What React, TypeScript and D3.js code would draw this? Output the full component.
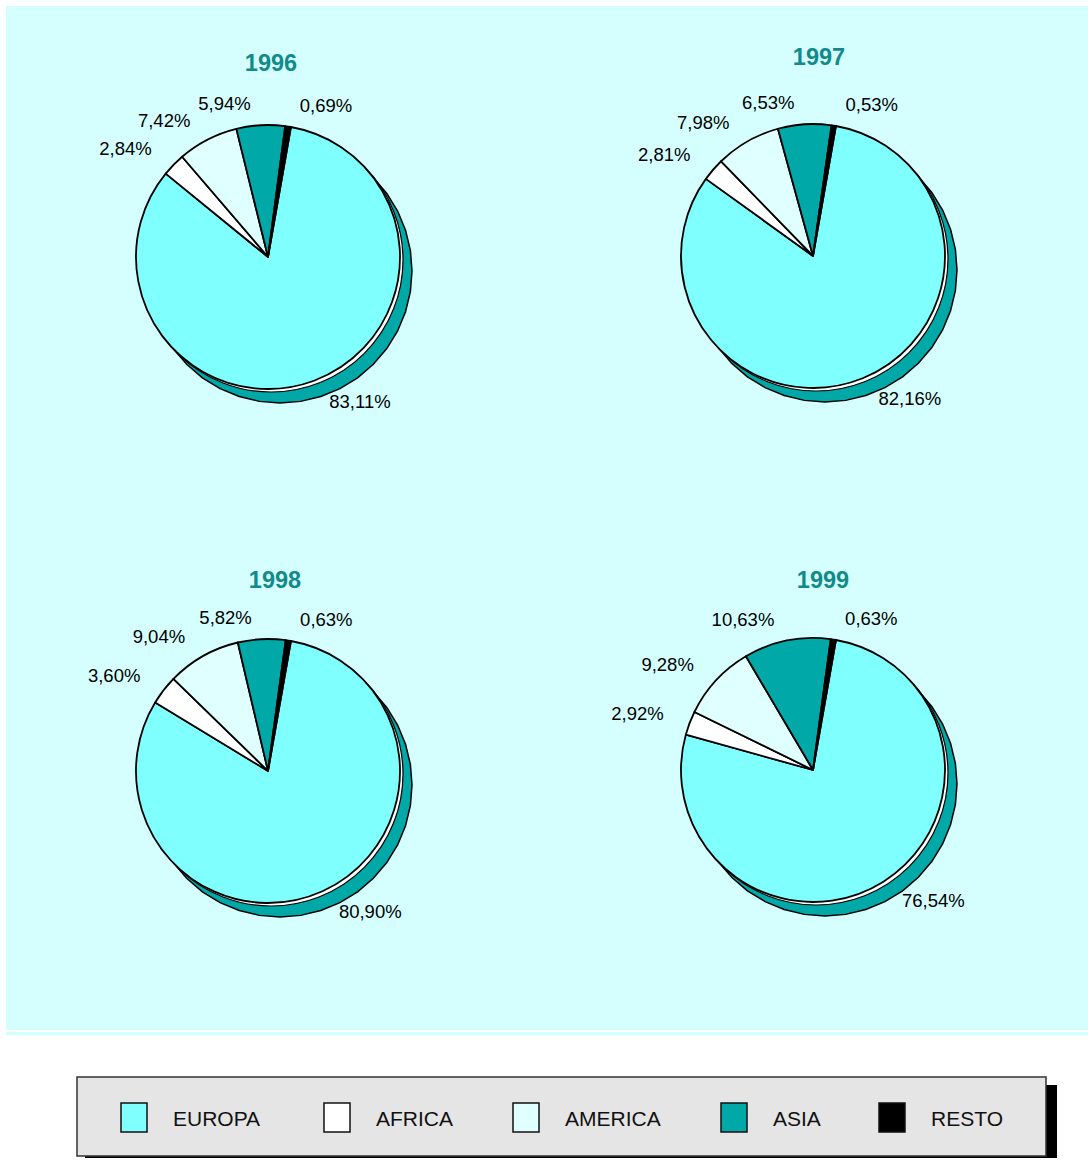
import React from "react";
import * as d3 from "d3";

const categories = ["EUROPA", "AFRICA", "AMERICA", "ASIA", "RESTO"];
const years = ["1996", "1997", "1998", "1999"];
const values1996 = [83.11, 2.84, 7.42, 5.94, 0.69];
const values1997 = [82.16, 2.81, 7.98, 6.53, 0.53];
const values1998 = [80.9, 3.6, 9.04, 5.82, 0.63];
const values1999 = [76.54, 2.92, 9.28, 10.63, 0.63];
const seriesByYear = [values1996, values1997, values1998, values1999];

const colors = ["#80ffff", "#ffffff", "#e0ffff", "#00a8a8", "#000000"];

// layout (not data)
const panels = [
  { cx: 268, cy: 257, ty: 63, tx: 271 },
  { cx: 813, cy: 256, ty: 57, tx: 819 },
  { cx: 268, cy: 771, ty: 580, tx: 275 },
  { cx: 813, cy: 770, ty: 580, tx: 823 },
];
const R = 132;
const LABEL_R = 150;
const LABEL_GAP = 9;
const START = (10 * Math.PI) / 180;

const fmt = (v: number) => v.toFixed(2).replace(".", ",") + "%";

function Pie({ values, year, p }: { values: number[]; year: string; p: any }) {
  const pie = d3.pie<number>().sort(null).startAngle(START).endAngle(START + 2 * Math.PI);
  const arcs = pie(values);
  const arc = d3.arc<d3.PieArcDatum<number>>().innerRadius(0).outerRadius(R);
  const N = 40;
  const poly = d3
    .lineRadial<number>()
    .angle((i) => (i / N) * 2 * Math.PI)
    .radius(R)
    .curve(d3.curveLinearClosed)(d3.range(N)) as string;
  const circle = d3.arc()({ innerRadius: 0, outerRadius: R, startAngle: 0, endAngle: 2 * Math.PI } as any) as string;
  return (
    <g>
      <text
        x={p.tx}
        y={p.ty}
        textAnchor="middle"
        dominantBaseline="central"
        fontFamily="Liberation Sans, Arial, sans-serif"
        fontWeight="bold"
        fontSize={23.5}
        fill="#138a8a"
      >
        {year}
      </text>
      <g transform={`translate(${p.cx + 12},${p.cy + 14})`}>
        <path d={poly} fill="#00a8a8" stroke="#000" strokeWidth={1.5} />
      </g>
      <g transform={`translate(${p.cx + 3},${p.cy + 3})`}>
        <path d={circle} fill="#ffffff" stroke="#000" strokeWidth={1.2} />
      </g>
      <g transform={`translate(${p.cx},${p.cy})`}>
        {arcs.map((a, i) => (
          <path key={i} d={arc(a) as string} fill={colors[i]} stroke="#000" strokeWidth={1.8} strokeLinejoin="round" />
        ))}
        {arcs.map((a, i) => {
          const mid = (a.startAngle + a.endAngle) / 2;
          const s = Math.sin(mid);
          const c = Math.cos(mid);
          const ax = LABEL_R * s + (s >= 0 ? LABEL_GAP : -LABEL_GAP);
          const ay = -LABEL_R * c;
          const anchor = s >= 0 ? "start" : "end";
          const y = c > 0 ? ay + 3 : ay + 10;
          return (
            <text
              key={"l" + i}
              x={ax}
              y={y}
              textAnchor={anchor}
              fontFamily="Liberation Sans, Arial, sans-serif"
              fontSize={18.5}
              fill="#000"
            >
              {fmt(values[i])}
            </text>
          );
        })}
      </g>
    </g>
  );
}

const legendSwatchX = [121, 324, 513, 721, 879];

export default function App() {
  return (
    <svg
      width={1088}
      height={1160}
      style={{ position: "absolute", left: 0, top: 0, background: "#ffffff" }}
    >
      <rect x={6} y={6} width={1082} height={1024} fill="#d5ffff" />
      <rect x={6} y={1032} width={1082} height={3.5} fill="#d5ffff" />
      {years.map((y, i) => (
        <Pie key={y} values={seriesByYear[i]} year={y} p={panels[i]} />
      ))}
      <g>
        <rect x={85} y={1085} width={972} height={73} fill="#000" />
        <rect x={77} y={1077} width={969} height={79} fill="#e5e5e5" stroke="#333" strokeWidth={1.5} />
        {categories.map((c, i) => (
          <g key={c}>
            <rect
              x={legendSwatchX[i]}
              y={1103}
              width={26}
              height={29}
              fill={colors[i]}
              stroke="#111"
              strokeWidth={1.5}
            />
            <text
              x={legendSwatchX[i] + 52}
              y={1118}
              dominantBaseline="central"
              fontFamily="Liberation Sans, Arial, sans-serif"
              fontSize={21}
              fill="#111"
            >
              {c}
            </text>
          </g>
        ))}
      </g>
    </svg>
  );
}
